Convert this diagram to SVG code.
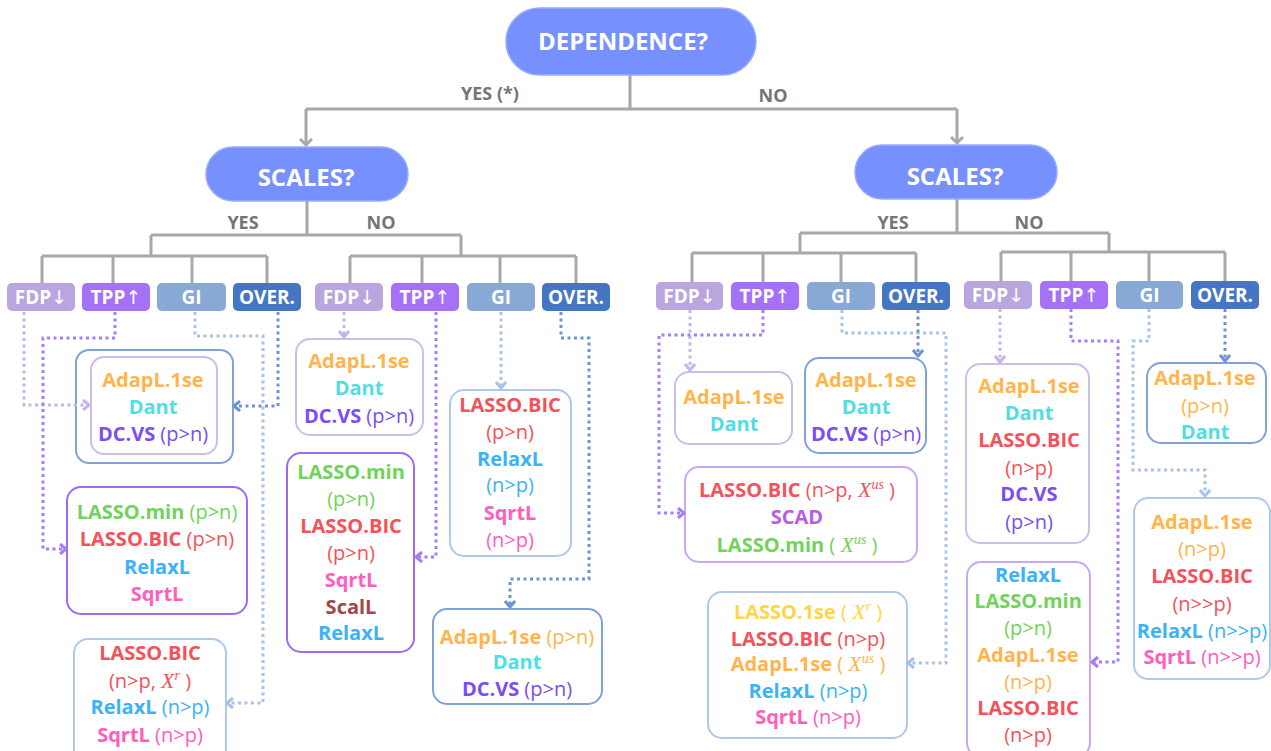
<svg xmlns="http://www.w3.org/2000/svg" width="1271" height="751" viewBox="0 0 1271 751">
<defs>
<style>
.tl{fill:none;stroke:#a8a8a8;stroke-width:3}
.pill{fill:#7690fe;stroke:#9aabff;stroke-width:1.5}
.pt{font-family:"Open Sans","Liberation Sans",sans-serif;font-weight:700;font-size:24px;fill:#fff;text-anchor:middle}
.lb{font-family:"Open Sans","Liberation Sans",sans-serif;font-weight:700;font-size:18px;fill:#757575;text-anchor:middle}
.bt{font-family:"Open Sans","Liberation Sans",sans-serif;font-weight:700;font-size:19px;fill:#fff;text-anchor:middle}
.ar{font-family:"DejaVu Sans",sans-serif;font-weight:400;font-size:19px}
.fdp{fill:#b9a6de}.tpp{fill:#a572f7}.gi{fill:#88a8d6}.ov{fill:#4676c3}
.box{fill:#fff;stroke-width:2}
.bLP{stroke:#cdbdeb}.bP{stroke:#9b6af7}.bLB{stroke:#b0c8ea}.bB{stroke:#7fa3d9}.bJ{stroke:#c6a8f7}
.t{font-family:"Open Sans","Liberation Sans",sans-serif;font-size:20px;font-weight:700;text-anchor:middle}
.n{font-weight:400}
.m{font-family:"Liberation Serif",serif;font-style:italic;font-weight:400;font-size:22px}
.s{font-size:14px}
.or{fill:#ffb54c}.cy{fill:#52dde3}.pu{fill:#7b4df5}.rd{fill:#f4525a}.gr{fill:#70d35a}.bl{fill:#3bb3f6}.pk{fill:#ff5ebd}.br{fill:#a04848}.ye{fill:#ffd54a}.sc{fill:#b45ee6}
.dc{fill:none;stroke-width:3;stroke-dasharray:3 3.5}
.cLP{stroke:#c5b4e8}.cP{stroke:#a77cf6}.cLB{stroke:#a9c2e6}.cB{stroke:#6d93d1}
</style>
<marker id="mG" markerUnits="userSpaceOnUse" markerWidth="14" markerHeight="14" refX="8" refY="7" orient="auto"><path d="M2,1 L8,7 L2,13" fill="none" stroke="#a8a8a8" stroke-width="3"/></marker>
<marker id="mLP" markerUnits="userSpaceOnUse" markerWidth="12" markerHeight="12" refX="8" refY="6" orient="auto"><path d="M2,1 L8,6 L2,11" fill="none" stroke="#c5b4e8" stroke-width="3" stroke-linejoin="round"/></marker>
<marker id="mP" markerUnits="userSpaceOnUse" markerWidth="12" markerHeight="12" refX="8" refY="6" orient="auto"><path d="M2,1 L8,6 L2,11" fill="none" stroke="#a77cf6" stroke-width="3" stroke-linejoin="round"/></marker>
<marker id="mLB" markerUnits="userSpaceOnUse" markerWidth="12" markerHeight="12" refX="8" refY="6" orient="auto"><path d="M2,1 L8,6 L2,11" fill="none" stroke="#a9c2e6" stroke-width="3" stroke-linejoin="round"/></marker>
<marker id="mB" markerUnits="userSpaceOnUse" markerWidth="12" markerHeight="12" refX="8" refY="6" orient="auto"><path d="M2,1 L8,6 L2,11" fill="none" stroke="#6d93d1" stroke-width="3" stroke-linejoin="round"/></marker>
</defs>
<rect width="1271" height="751" fill="#fff"/>

<g id="dependence"><rect class="pill" x="506" y="8" width="250" height="67" rx="33.5"/><text class="pt" x="623" y="50">DEPENDENCE?</text></g>
<g id="scales-left"><rect class="pill" x="206" y="147" width="202" height="54" rx="27"/><text class="pt" x="306" y="186">SCALES?</text></g>
<g id="scales-right"><rect class="pill" x="855" y="145" width="202" height="54" rx="27"/><text class="pt" x="955" y="185">SCALES?</text></g>

<g id="btn-fdp-1"><rect class="fdp" x="7" y="283" width="68" height="28" rx="5"/><text class="bt" x="41" y="304">FDP<tspan class="ar">↓</tspan></text></g>
<g id="btn-tpp-1"><rect class="tpp" x="82" y="283" width="68" height="28" rx="5"/><text class="bt" x="116" y="304">TPP<tspan class="ar">↑</tspan></text></g>
<g id="btn-gi-1"><rect class="gi" x="157" y="283" width="69" height="28" rx="5"/><text class="bt" x="191.5" y="304">GI</text></g>
<g id="btn-over-1"><rect class="ov" x="233" y="283" width="68" height="28" rx="5"/><text class="bt" x="267" y="304">OVER.</text></g>

<g id="btn-fdp-2"><rect class="fdp" x="315" y="283" width="68" height="28" rx="5"/><text class="bt" x="349" y="304">FDP<tspan class="ar">↓</tspan></text></g>
<g id="btn-tpp-2"><rect class="tpp" x="391" y="283" width="68" height="28" rx="5"/><text class="bt" x="425" y="304">TPP<tspan class="ar">↑</tspan></text></g>
<g id="btn-gi-2"><rect class="gi" x="467" y="283" width="68" height="28" rx="5"/><text class="bt" x="501" y="304">GI</text></g>
<g id="btn-over-2"><rect class="ov" x="542" y="283" width="68" height="28" rx="5"/><text class="bt" x="576" y="304">OVER.</text></g>

<g id="btn-fdp-3"><rect class="fdp" x="656" y="282" width="67" height="28" rx="5"/><text class="bt" x="689.5" y="303">FDP<tspan class="ar">↓</tspan></text></g>
<g id="btn-tpp-3"><rect class="tpp" x="731" y="282" width="68" height="28" rx="5"/><text class="bt" x="765" y="303">TPP<tspan class="ar">↑</tspan></text></g>
<g id="btn-gi-3"><rect class="gi" x="807" y="282" width="68" height="28" rx="5"/><text class="bt" x="841" y="303">GI</text></g>
<g id="btn-over-3"><rect class="ov" x="882" y="282" width="68" height="28" rx="5"/><text class="bt" x="916" y="303">OVER.</text></g>

<g id="btn-fdp-4"><rect class="fdp" x="964" y="281" width="68" height="28" rx="5"/><text class="bt" x="998" y="302">FDP<tspan class="ar">↓</tspan></text></g>
<g id="btn-tpp-4"><rect class="tpp" x="1040" y="281" width="68" height="28" rx="5"/><text class="bt" x="1074" y="302">TPP<tspan class="ar">↑</tspan></text></g>
<g id="btn-gi-4"><rect class="gi" x="1116" y="281" width="67" height="28" rx="5"/><text class="bt" x="1149.5" y="302">GI</text></g>
<g id="btn-over-4"><rect class="ov" x="1191" y="281" width="68" height="28" rx="5"/><text class="bt" x="1225" y="302">OVER.</text></g>

<g id="box-a">
<rect class="box bB" x="76" y="350" width="157" height="113" rx="13"/>
<rect class="box bLP" x="91" y="357" width="126" height="97" rx="13"/>
<text class="t or" x="153" y="387">AdapL.1se</text>
<text class="t cy" x="153" y="414">Dant</text>
<text class="t pu" x="153" y="441">DC.VS<tspan class="n"> (p&gt;n)</tspan></text>
</g>
<g id="box-b">
<rect class="box bP" x="67" y="487" width="180" height="127" rx="14"/>
<text class="t gr" x="157" y="519">LASSO.min<tspan class="n"> (p&gt;n)</tspan></text>
<text class="t rd" x="157" y="546">LASSO.BIC<tspan class="n"> (p&gt;n)</tspan></text>
<text class="t bl" x="157" y="574">RelaxL</text>
<text class="t pk" x="157" y="601">SqrtL</text>
</g>
<g id="box-c">
<rect class="box bLB" x="74" y="639" width="152" height="125" rx="14"/>
<text class="t rd" x="150" y="660">LASSO.BIC</text>
<text class="t rd n" x="150" y="688">(n&gt;p, <tspan class="m">X</tspan><tspan class="m s" dy="-8">r</tspan><tspan dy="8"> )</tspan></text>
<text class="t bl" x="150" y="714">RelaxL<tspan class="n"> (n&gt;p)</tspan></text>
<text class="t pk" x="150" y="742">SqrtL<tspan class="n"> (n&gt;p)</tspan></text>
</g>
<g id="box-d">
<rect class="box bLP" x="296" y="339" width="127" height="96" rx="14"/>
<text class="t or" x="359" y="368">AdapL.1se</text>
<text class="t cy" x="359" y="395">Dant</text>
<text class="t pu" x="359" y="423">DC.VS<tspan class="n"> (p&gt;n)</tspan></text>
</g>
<g id="box-e">
<rect class="box bP" x="287" y="453" width="127" height="199" rx="14"/>
<text class="t gr" x="351" y="479">LASSO.min</text>
<text class="t gr n" x="351" y="506">(p&gt;n)</text>
<text class="t rd" x="351" y="533">LASSO.BIC</text>
<text class="t rd n" x="351" y="560">(p&gt;n)</text>
<text class="t pk" x="351" y="587">SqrtL</text>
<text class="t br" x="351" y="614">ScalL</text>
<text class="t bl" x="351" y="640">RelaxL</text>
</g>
<g id="box-f">
<rect class="box bLB" x="450" y="390" width="121" height="166" rx="14"/>
<text class="t rd" x="510" y="412">LASSO.BIC</text>
<text class="t rd n" x="510" y="439">(p&gt;n)</text>
<text class="t bl" x="510" y="466">RelaxL</text>
<text class="t bl n" x="510" y="492">(n&gt;p)</text>
<text class="t pk" x="510" y="520">SqrtL</text>
<text class="t pk n" x="510" y="547">(n&gt;p)</text>
</g>
<g id="box-g">
<rect class="box bB" x="433" y="609" width="169" height="95" rx="14"/>
<text class="t or" x="517" y="644">AdapL.1se<tspan class="n"> (p&gt;n)</tspan></text>
<text class="t cy" x="517" y="669">Dant</text>
<text class="t pu" x="517" y="696">DC.VS<tspan class="n"> (p&gt;n)</tspan></text>
</g>
<g id="box-h">
<rect class="box bLP" x="675" y="372" width="117" height="72" rx="14"/>
<text class="t or" x="734" y="404">AdapL.1se</text>
<text class="t cy" x="734" y="431">Dant</text>
</g>
<g id="box-i">
<rect class="box bB" x="805" y="358" width="121" height="95" rx="14"/>
<text class="t or" x="866" y="387">AdapL.1se</text>
<text class="t cy" x="866" y="414">Dant</text>
<text class="t pu" x="866" y="441">DC.VS<tspan class="n"> (p&gt;n)</tspan></text>
</g>
<g id="box-j">
<rect class="box bJ" x="685" y="467" width="232" height="95" rx="14"/>
<text class="t rd" x="797" y="497">LASSO.BIC<tspan class="n"> (n&gt;p, </tspan><tspan class="m">X</tspan><tspan class="m s" dy="-8">us</tspan><tspan class="n" dy="8"> )</tspan></text>
<text class="t sc" x="797" y="524">SCAD</text>
<text class="t gr" x="797" y="552">LASSO.min<tspan class="n"> ( </tspan><tspan class="m">X</tspan><tspan class="m s" dy="-8">us</tspan><tspan class="n" dy="8"> )</tspan></text>
</g>
<g id="box-k">
<rect class="box bLB" x="708" y="592" width="199" height="146" rx="14"/>
<text class="t ye" x="808" y="619">LASSO.1se<tspan class="n"> ( </tspan><tspan class="m">X</tspan><tspan class="m s" dy="-8">r</tspan><tspan class="n" dy="8"> )</tspan></text>
<text class="t rd" x="808" y="646">LASSO.BIC<tspan class="n"> (n&gt;p)</tspan></text>
<text class="t or" x="808" y="671">AdapL.1se<tspan class="n"> ( </tspan><tspan class="m">X</tspan><tspan class="m s" dy="-8">us</tspan><tspan class="n" dy="8"> )</tspan></text>
<text class="t bl" x="808" y="698">RelaxL<tspan class="n"> (n&gt;p)</tspan></text>
<text class="t pk" x="808" y="724">SqrtL<tspan class="n"> (n&gt;p)</tspan></text>
</g>
<g id="box-l">
<rect class="box bLP" x="966" y="364" width="123" height="179" rx="14"/>
<text class="t or" x="1029" y="393">AdapL.1se</text>
<text class="t cy" x="1029" y="420">Dant</text>
<text class="t rd" x="1029" y="447">LASSO.BIC</text>
<text class="t rd n" x="1029" y="475">(n&gt;p)</text>
<text class="t pu" x="1029" y="501">DC.VS</text>
<text class="t pu n" x="1029" y="529">(p&gt;n)</text>
</g>
<g id="box-m">
<rect class="box bB" x="1147" y="363" width="119" height="80" rx="14"/>
<text class="t or" x="1205" y="385">AdapL.1se</text>
<text class="t or n" x="1205" y="413">(p&gt;n)</text>
<text class="t cy" x="1205" y="439">Dant</text>
</g>
<g id="box-n">
<rect class="box bLB" x="1134" y="498" width="136" height="181" rx="14"/>
<text class="t or" x="1202" y="529">AdapL.1se</text>
<text class="t or n" x="1202" y="556">(n&gt;p)</text>
<text class="t rd" x="1202" y="583">LASSO.BIC</text>
<text class="t rd n" x="1202" y="611">(n&gt;&gt;p)</text>
<text class="t bl" x="1202" y="638">RelaxL<tspan class="n"> (n&gt;&gt;p)</tspan></text>
<text class="t pk" x="1202" y="664">SqrtL<tspan class="n"> (n&gt;&gt;p)</tspan></text>
</g>
<g id="box-o">
<rect class="box bJ" x="967" y="562" width="123" height="195" rx="14"/>
<text class="t bl" x="1028" y="582">RelaxL</text>
<text class="t gr" x="1028" y="608">LASSO.min</text>
<text class="t gr n" x="1028" y="635">(p&gt;n)</text>
<text class="t or" x="1028" y="662">AdapL.1se</text>
<text class="t or n" x="1028" y="689">(n&gt;p)</text>
<text class="t rd" x="1028" y="715">LASSO.BIC</text>
<text class="t rd n" x="1028" y="742">(n&gt;p)</text>
</g>

<g id="connectors">
<g id="tree">
<path class="tl" d="M630,75 V109 M306,109 H957"/>
<path class="tl" d="M306,109 V145" marker-end="url(#mG)"/>
<path class="tl" d="M957,109 V143" marker-end="url(#mG)"/>
<path class="tl" d="M307,201 V235 M151,235 H461 M151,235 V256 M42,256 H267 M42,256 V283 M113,256 V283 M192,256 V283 M267,256 V283"/>
<path class="tl" d="M461,235 V256 M350,256 H576 M350,256 V283 M422,256 V283 M500,256 V283 M576,256 V283"/>
<path class="tl" d="M957,199 V233 M800,233 H1109 M800,233 V253 M692,253 H916 M692,253 V282 M763,253 V282 M841,253 V282 M916,253 V282"/>
<path class="tl" d="M1109,233 V252 M1001,252 H1225 M1001,252 V281 M1071,252 V281 M1149,252 V281 M1225,252 V281"/>
<text class="lb" x="490" y="100">YES (*)</text>
<text class="lb" x="773" y="102">NO</text>
<text class="lb" x="243" y="229">YES</text>
<text class="lb" x="381" y="229">NO</text>
<text class="lb" x="893" y="229">YES</text>
<text class="lb" x="1029" y="229">NO</text>
</g>
<g id="dotted">
<path class="dc cLP" d="M24,312 V405 H89" marker-end="url(#mLP)"/>
<path class="dc cP" d="M115,312 V338 H43 V549 H66" marker-end="url(#mP)"/>
<path class="dc cLB" d="M195,312 V336 H263 V703 H227" marker-end="url(#mLB)"/>
<path class="dc cB" d="M278,312 V406 H234" marker-end="url(#mB)"/>
<path class="dc cLP" d="M344,312 V337" marker-end="url(#mLP)"/>
<path class="dc cP" d="M436,312 V557 H416" marker-end="url(#mP)"/>
<path class="dc cLB" d="M501,312 V388" marker-end="url(#mLB)"/>
<path class="dc cB" d="M561,312 V338 H589 V579 H510 V607" marker-end="url(#mB)"/>
<path class="dc cLP" d="M690,310 V370" marker-end="url(#mLP)"/>
<path class="dc cP" d="M763,310 V335 H659 V513 H684" marker-end="url(#mP)"/>
<path class="dc cLB" d="M842,310 V333 H946 V663 H908" marker-end="url(#mLB)"/>
<path class="dc cB" d="M918,310 V356" marker-end="url(#mB)"/>
<path class="dc cLP" d="M1000,309 V362" marker-end="url(#mLP)"/>
<path class="dc cP" d="M1071,309 V341 H1118 V662 H1092" marker-end="url(#mP)"/>
<path class="dc cLB" d="M1149,309 V341 H1133 V470 H1205 V496" marker-end="url(#mLB)"/>
<path class="dc cB" d="M1225,309 V361" marker-end="url(#mB)"/>
</g>
</g>
</svg>
